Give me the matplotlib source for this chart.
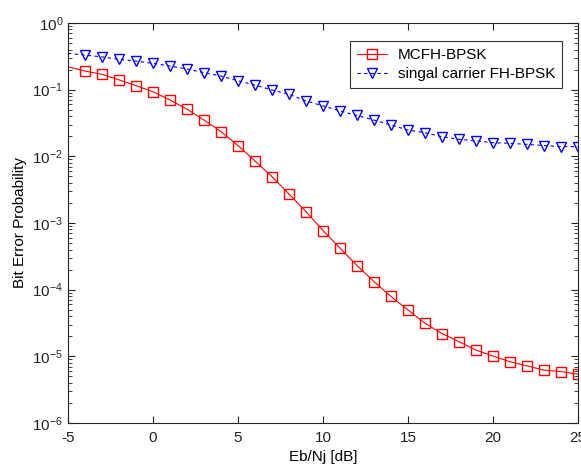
import matplotlib
matplotlib.use("Agg")
import matplotlib.pyplot as plt
from matplotlib.ticker import LogLocator, NullFormatter, FixedLocator

plt.rcParams['font.family'] = ['Liberation Sans', 'DejaVu Sans']
plt.rcParams['axes.unicode_minus'] = False

ebnj = list(range(-5, 26))
mcfh = [0.22, 0.19, 0.17, 0.14, 0.115, 0.093, 0.070, 0.051, 0.035, 0.0235, 0.0145,
        0.0085, 0.00495, 0.00272, 0.00148, 7.7e-4, 4.2e-4, 2.3e-4, 1.32e-4, 7.9e-5,
        4.96e-5, 3.13e-5, 2.2e-5, 1.66e-5, 1.24e-5, 1.01e-5, 8.3e-6, 7.2e-6, 6.2e-6,
        5.9e-6, 5.4e-6]
single = [0.35, 0.33, 0.31, 0.285, 0.269, 0.248, 0.226, 0.204, 0.18, 0.16, 0.136,
          0.117, 0.099, 0.085, 0.068, 0.057, 0.048, 0.041, 0.035, 0.0295, 0.0248,
          0.0226, 0.0197, 0.018, 0.017, 0.016, 0.0157, 0.0151, 0.0145, 0.014, 0.014]
labels = ['MCFH-BPSK', 'singal carrier FH-BPSK']
xlabel = 'Eb/Nj [dB]'
ylabel = 'Bit Error Probability'

fig = plt.figure(figsize=(5.81, 4.67), dpi=100)
ax = fig.add_axes([68/581, 44/467, 510/581, 400/467])

ax.plot(ebnj, mcfh, color='#ff0000', linestyle='-', linewidth=0.8,
        marker='s', markersize=7, markerfacecolor='none', markeredgecolor='#ff0000',
        markeredgewidth=1.0, markevery=slice(1, None), label=labels[0])
ax.plot(ebnj, single, color='#0000ff', linestyle='--', linewidth=0.8, dashes=(3, 3),
        marker='v', markersize=7, markerfacecolor='none', markeredgecolor='#0000ff',
        markeredgewidth=1.0, markevery=slice(1, None), label=labels[1])

ax.set_yscale('log')
ax.set_xlim(-5, 25)
ax.set_ylim(1e-6, 1)
ax.xaxis.set_major_locator(FixedLocator([-5, 0, 5, 10, 15, 20, 25]))
ax.yaxis.set_major_locator(LogLocator(base=10, numticks=10))
ax.yaxis.set_minor_locator(LogLocator(base=10, subs=range(2, 10), numticks=20))
ax.yaxis.set_minor_formatter(NullFormatter())

ax.tick_params(axis='both', which='both', direction='in', top=True, right=True,
               labelsize=11, colors='#222222')
ax.tick_params(which='major', length=5, width=0.8)
ax.tick_params(axis='x', which='major', pad=6)
ax.tick_params(which='minor', length=3, width=0.6)
for s in ax.spines.values():
    s.set_color('#222222')
    s.set_linewidth(0.8)

ax.set_xlabel(xlabel, fontsize=11, labelpad=3)
ax.set_ylabel(ylabel, fontsize=11, labelpad=4)

leg = ax.legend(loc='upper right', bbox_to_anchor=((562 - 68) / 510, 1 - (41 - 23) / 400),
                bbox_transform=ax.transAxes, fontsize=11, frameon=True, fancybox=False,
                handlelength=2.0, borderpad=0.45, labelspacing=0.35, handletextpad=0.7,
                borderaxespad=0, framealpha=1)
leg.get_frame().set_edgecolor('#333333')
leg.get_frame().set_linewidth(0.8)

fig.savefig('out.png', dpi=100)
